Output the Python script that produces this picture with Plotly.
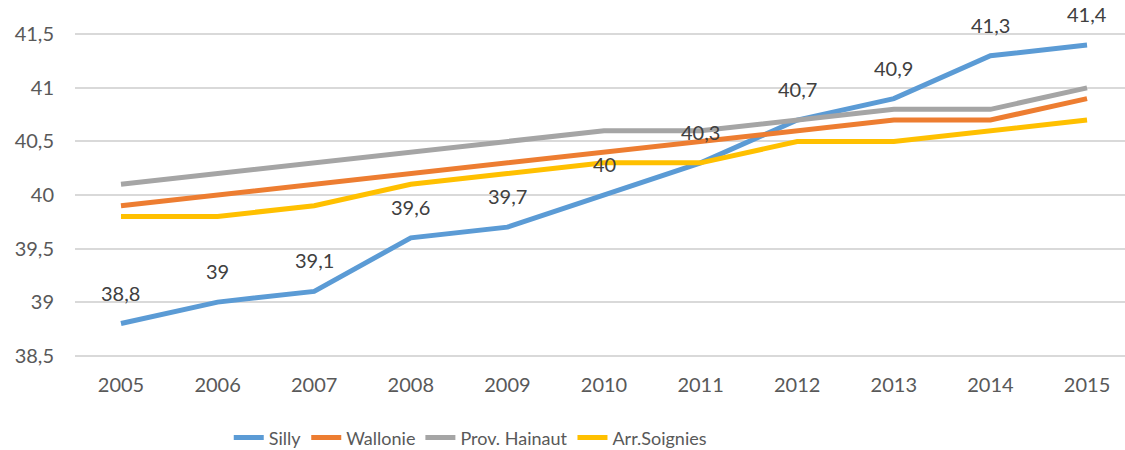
import plotly.graph_objects as go

years = [2005, 2006, 2007, 2008, 2009, 2010, 2011, 2012, 2013, 2014, 2015]
silly = [38.8, 39.0, 39.1, 39.6, 39.7, 40.0, 40.3, 40.7, 40.9, 41.3, 41.4]
wallonie = [39.9, 40.0, 40.1, 40.2, 40.3, 40.4, 40.5, 40.6, 40.7, 40.7, 40.9]
hainaut = [40.1, 40.2, 40.3, 40.4, 40.5, 40.6, 40.6, 40.7, 40.8, 40.8, 41.0]
soignies = [39.8, 39.8, 39.9, 40.1, 40.2, 40.3, 40.3, 40.5, 40.5, 40.6, 40.7]
y_ticks = [38.5, 39.0, 39.5, 40.0, 40.5, 41.0, 41.5]

series = [
    ("Silly", silly, "#5B9BD5"),
    ("Wallonie", wallonie, "#ED7D31"),
    ("Prov. Hainaut", hainaut, "#A5A5A5"),
    ("Arr.Soignies", soignies, "#FFC000"),
]

FONT = "Lato, 'Open Sans', sans-serif"

fig = go.Figure()
for name, vals, color in series:
    fig.add_trace(go.Scatter(
        x=years, y=vals, name=name, mode="lines",
        line=dict(color=color, width=5),
    ))

# value labels above the Silly series
for x, v in zip(years, silly):
    fig.add_annotation(
        x=x, y=v, text=f"{v:g}".replace(".", ","), showarrow=False,
        yshift=31, font=dict(family=FONT, size=20, color="#404040"),
    )

fig.update_layout(
    width=1125, height=450,
    margin=dict(l=75, r=0, t=29, b=89, autoexpand=False),
    paper_bgcolor="white", plot_bgcolor="white",
    separators=", ",
    font=dict(family=FONT, size=20, color="#595959"),
    showlegend=True,
    legend=dict(
        orientation="h", xref="container", x=0.418, xanchor="center",
        yref="container", y=0.027, yanchor="middle",
        font=dict(family=FONT, size=18, color="#595959"),
        itemwidth=30, tracegroupgap=0,
    ),
)
fig.update_xaxes(
    range=[2004.524, 2015.393], tickmode="array", tickvals=years,
    ticktext=[str(y) for y in years],
    showgrid=False, zeroline=False, showline=False,
    ticks="", ticklabelstandoff=10,
    tickfont=dict(family=FONT, size=20, color="#595959"),
)
fig.update_yaxes(
    range=[38.45, 41.55], tickmode="array", tickvals=y_ticks,
    showgrid=True, gridcolor="#D9D9D9", gridwidth=1.5,
    zeroline=False, showline=False, ticks="", ticklabelstandoff=20,
    tickfont=dict(family=FONT, size=20, color="#595959"),
)

fig.write_html("out.html")
